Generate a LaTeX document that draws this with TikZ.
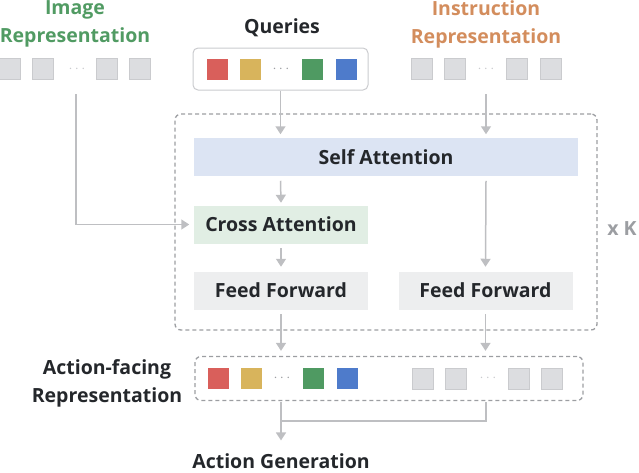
\documentclass[tikz,border=0pt]{standalone}
\usepackage{fontspec}
\setmainfont{Open Sans}
\usetikzlibrary{arrows.meta,positioning}
\definecolor{linegray}{HTML}{BEBFC2}
\definecolor{boxgray}{HTML}{9C9EA2}
\definecolor{tokfill}{HTML}{DCDDE0}
\definecolor{tokedge}{HTML}{CACBCE}
\definecolor{txtdark}{HTML}{24272B}
\definecolor{imggreen}{HTML}{519B63}
\definecolor{insorange}{HTML}{D38D5D}
\definecolor{qred}{HTML}{D95F5B}
\definecolor{qyellow}{HTML}{D8B45C}
\definecolor{qgreen}{HTML}{4F9A62}
\definecolor{qblue}{HTML}{4E7BCB}
\definecolor{selfblue}{HTML}{DCE4F3}
\definecolor{crossgreen}{HTML}{E1EEE4}
\definecolor{ffgray}{HTML}{EDEEEF}
\tikzset{every picture/.style={line width=1.5pt}}
\tikzset{
  lbl/.style={font=\bfseries\fontsize{19.5}{28}\selectfont, text=txtdark, align=center, inner sep=0pt},
  tok/.style={draw=tokedge, fill=tokfill, line width=0.8pt, minimum size=21pt, inner sep=0pt},
  dots/.style={font=\fontsize{14}{14}\selectfont, text=#1, inner sep=0pt},
  blk/.style={lbl, fill=#1, minimum height=38pt},
  arr/.style={draw=linegray, -{Triangle[width=10pt,length=8pt]}},
  ln/.style={draw=linegray},
  grp/.style={draw=boxgray, line width=1.3pt, dash pattern=on 4pt off 3pt, rounded corners=6pt, inner sep=0pt}
}
\begin{document}
\begin{tikzpicture}[x=1pt,y=-1pt]
  \useasboundingbox (0,0) rectangle (639,472);
  % labels on top
  \node[lbl, text=imggreen] (imglbl) at (75,24) {Image\\Representation};
  \node[lbl] (qlbl) at (282,28) {Queries};
  \node[lbl, text=insorange] (inslbl) at (486,24) {Instruction\\Representation};
  % input tokens
  \foreach \x/\n in {10/i1, 43/i2, 107/i3, 140/i4} \node[tok] (\n) at (\x,69) {};
  \node[dots=tokedge] (idots) at (77,69) {$\cdots$};
  \node[grp, draw=tokedge, line width=1pt, dash pattern=, rounded corners=5pt, minimum width=175pt, minimum height=42pt] (qbox) at (280.5,69) {};
  \foreach \x/\n/\c in {217/q1/qred, 250/q2/qyellow, 312/q3/qgreen, 346/q4/qblue} \node[tok, draw=none, fill=\c] (\n) at (\x,69) {};
  \node[dots=boxgray] (qdots) at (281,69) {$\cdots$};
  \foreach \x/\n in {422/s1, 455/s2, 517/s3, 551/s4} \node[tok] (\n) at (\x,69) {};
  \node[dots=tokedge] (sdots) at (486,69) {$\cdots$};
  % transformer layer
  \node[grp, minimum width=422pt, minimum height=216pt] (layer) at (386,222) {};
  \node[lbl, text=boxgray] (xk) at (622,229) {x K};
  \node[blk=selfblue, minimum width=384pt] (sa) at (386,157) {Self Attention};
  \node[blk=crossgreen, minimum width=174pt] (ca) at (281,224.5) {Cross Attention};
  \node[blk=ffgray, minimum width=174pt] (ff1) at (281,290.5) {Feed Forward};
  \node[blk=ffgray, minimum width=174pt] (ff2) at (485.5,290.5) {Feed Forward};
  % output tokens
  \node[grp, minimum width=388pt, minimum height=44pt] (out) at (389,378.5) {};
  \foreach \x/\n/\c in {218/o1/qred, 251/o2/qyellow, 313/o3/qgreen, 347/o4/qblue} \node[tok, draw=none, fill=\c] (\n) at (\x,378.5) {};
  \node[dots=boxgray] (odots) at (282,378.5) {$\cdots$};
  \foreach \x/\n in {423/p1, 456/p2, 519/p3, 552/p4} \node[tok] (\n) at (\x,378.5) {};
  \node[dots=tokedge] (pdots) at (488,378.5) {$\cdots$};
  \node[lbl] (outlbl) at (107,383) {Action-facing\\Representation};
  \node[lbl, text depth=0pt, anchor=base] (gen) at (281,468) {Action Generation};
  % connectors
  \coordinate (itop) at (76,94);
  \coordinate (stop) at (486,94);
  \coordinate (join) at (281,421);
  \draw[arr] (qbox.south) -- ([yshift=3pt]qbox.south |- sa.north);
  \draw[arr] (stop) -- ([yshift=3pt]stop |- sa.north);
  \draw[arr] ([yshift=-4pt]qbox.south |- sa.south) -- ([yshift=2pt]ca.north);
  \draw[arr] (itop) |- ([xshift=-4pt]ca.west);
  \draw[arr] ([yshift=-4pt]ca.south) -- ([yshift=4pt]ff1.north);
  \draw[arr] ([yshift=-4pt]stop |- sa.south) -- ([yshift=4pt]ff2.north);
  \draw[arr] ([yshift=-4pt]ff1.south) -- ([yshift=5pt]ff1.south |- out.north);
  \draw[arr] ([yshift=-4pt]ff2.south) -- ([yshift=5pt]ff2.south |- out.north);
  \draw[ln] ([yshift=-1pt]join |- out.south) -- (join) -| ([yshift=-1pt]stop |- out.south);
  \draw[arr] (join) -- ([yshift=12pt]gen.north);
\end{tikzpicture}
\end{document}
